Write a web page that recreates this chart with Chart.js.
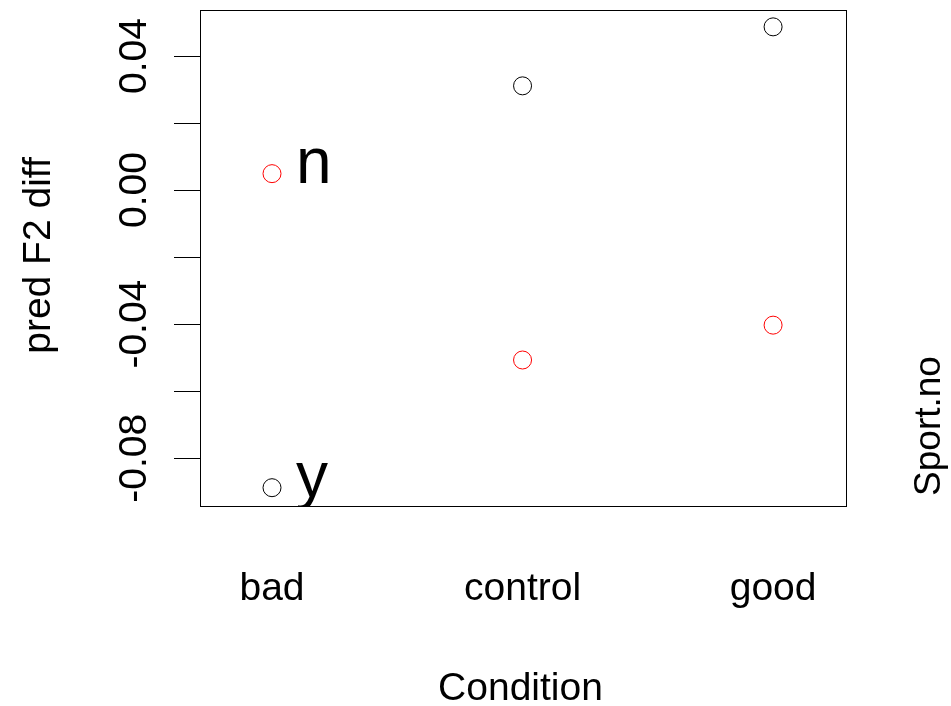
<!DOCTYPE html>
<html>
<head>
<meta charset="utf-8">
<script src="https://cdn.jsdelivr.net/npm/chart.js@4.4.1/dist/chart.umd.min.js"></script>
<style>
html, body { margin: 0; padding: 0; background: #fff; }
#wrap { width: 951px; height: 706px; position: relative; }
</style>
</head>
<body>
<div id="wrap"><canvas id="plot"></canvas></div>
<script>
/* ---- datos ---- */
const condiciones = ['bad', 'control', 'good'];
const sportN = [0.0049, -0.0507, -0.0403];   // rojo
const sportY = [-0.0888, 0.0311, 0.0487];    // negro
const yTicks = [-0.08, -0.06, -0.04, -0.02, 0.00, 0.02, 0.04];
const yTickLabels = ['-0.08', '', '-0.04', '', '0.00', '', '0.04'];
const traceLabels = ['n', 'y'];

const FONT = '"Liberation Sans", Arial, sans-serif';

// textos al estilo R (ejes rotados, etiquetas de traza, caja)
const textosR = {
    id: 'textosR',
    afterDatasetsDraw(chart) {
        const { ctx, chartArea: a, scales: { x, y } } = chart;
        ctx.save();
        ctx.strokeStyle = '#000';
        ctx.lineWidth = 1;
        ctx.strokeRect(a.left + 0.5, a.top + 0.5, a.right - a.left - 1, a.bottom - a.top - 1);

        ctx.fillStyle = '#000';
        ctx.textBaseline = 'alphabetic';
        ctx.textAlign = 'center';

        // etiquetas eje y (rotadas)
        ctx.font = '39px ' + FONT;
        yTicks.forEach((v, i) => {
            if (!yTickLabels[i]) return;
            ctx.save();
            ctx.translate(a.left - 54, y.getPixelForValue(v));
            ctx.rotate(-Math.PI / 2);
            ctx.fillText(yTickLabels[i], 0, 0);
            ctx.restore();
        });

        // etiquetas eje x
        condiciones.forEach((c, i) => {
            ctx.fillText(c, x.getPixelForValue(i + 1), a.bottom + 93);
        });

        // títulos
        ctx.fillText('Condition', (a.left + a.right) / 2 - 3, a.bottom + 193);

        ctx.save();
        ctx.translate(50, (a.top + a.bottom) / 2 - 3);
        ctx.rotate(-Math.PI / 2);
        ctx.fillText('pred F2 diff', 0, 0);
        ctx.restore();

        ctx.font = '37px ' + FONT;
        ctx.save();
        ctx.translate(940, 426);
        ctx.rotate(-Math.PI / 2);
        ctx.fillText('Sport.no', 0, 0);
        ctx.restore();

        // n / y junto al primer punto
        ctx.beginPath();
        ctx.rect(a.left, a.top, a.right - a.left, a.bottom - a.top);
        ctx.clip();
        ctx.font = '64px ' + FONT;
        ctx.textAlign = 'left';
        const primeros = [sportN[0], sportY[0]];
        traceLabels.forEach((t, i) => {
            ctx.fillText(t, x.getPixelForValue(1) + 24, y.getPixelForValue(primeros[i]) + 9);
        });
        ctx.restore();
    }
};

function puntos(vals) {
    return vals.map((v, i) => ({ x: i + 1, y: v }));
}

new Chart(document.getElementById('plot').getContext('2d'), {
    type: 'scatter',
    data: {
        datasets: [
            { label: 'n', data: puntos(sportN), borderColor: '#ff0000', backgroundColor: 'transparent',
              pointRadius: 9, pointBorderWidth: 1, pointHoverRadius: 9 },
            { label: 'y', data: puntos(sportY), borderColor: '#000000', backgroundColor: 'transparent',
              pointRadius: 9, pointBorderWidth: 1, pointHoverRadius: 9 }
        ]
    },
    options: {
        responsive: true,
        maintainAspectRatio: false,
        animation: false,
        devicePixelRatio: 1,
        events: [],
        layout: { padding: { left: 0, top: 8, right: 104, bottom: 0 } },
        scales: {
            x: {
                type: 'linear',
                min: 0.7126,
                max: 3.295,
                grid: { display: false },
                border: { display: false },
                ticks: { display: false },
                afterFit: s => { s.height = 199; }
            },
            y: {
                type: 'linear',
                min: -0.09456,
                max: 0.05373,
                afterBuildTicks: s => { s.ticks = yTicks.map(v => ({ value: v })); },
                grid: { display: true, drawOnChartArea: false, drawTicks: true, tickLength: 26,
                        color: '#000', lineWidth: 1 },
                border: { display: false },
                ticks: { display: false },
                afterFit: s => { s.width = 200; }
            }
        },
        plugins: { legend: { display: false }, tooltip: { enabled: false } }
    },
    plugins: [textosR]
});
</script>
</body>
</html>
